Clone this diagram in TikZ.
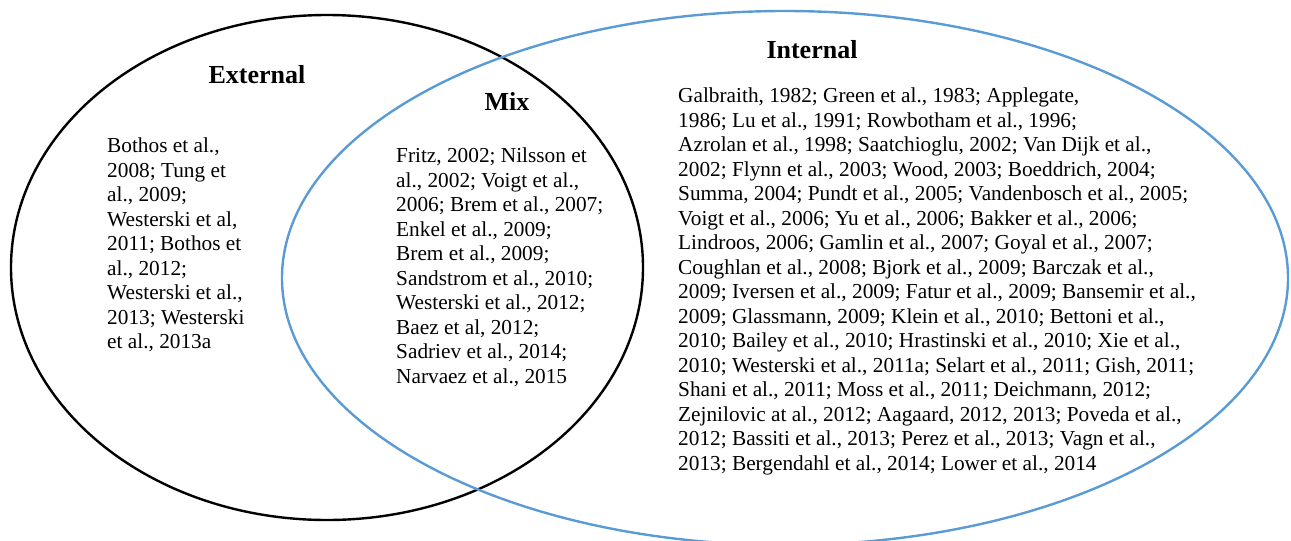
\documentclass[tikz,border=0pt]{standalone}
\usepackage{fontspec}
\setmainfont{Liberation Serif}
\definecolor{setblue}{RGB}{91,155,213}
\begin{document}
\begin{tikzpicture}[
    x=1pt,y=-1pt,
    set/.style={line width=2.4pt},
    head/.style={font=\fontsize{26}{30}\selectfont\bfseries,inner sep=0pt},
    refs/.style={font=\fontsize{21.3}{24.5}\selectfont,align=left,anchor=north west,inner sep=0pt}
]
\useasboundingbox (0,0) rectangle (1291,541);

% the two sets
\draw[set,black] (327,267.5) ellipse [x radius=316, y radius=252.5];
\draw[set,setblue] (785,278) ellipse [x radius=503, y radius=267];

% headings
\node[head] (external) at (257,75) {External};
\node[head] (mix) at (507,101) {Mix};
\node[head] (internal) at (812,50) {Internal};

% references in each part
\node[refs] (extrefs) at (107,138) {Bothos et al.,\\2008; Tung et\\al., 2009;\\Westerski et al,\\2011; Bothos et\\al., 2012;\\Westerski et al.,\\2013; Westerski\\et al., 2013a};
\node[refs] (mixrefs) at (396,148) {Fritz, 2002; Nilsson et\\al., 2002; Voigt et al.,\\2006; Brem et al., 2007;\\Enkel et al., 2009;\\Brem et al., 2009;\\Sandstrom et al., 2010;\\Westerski et al., 2012;\\Baez et al, 2012;\\Sadriev et al., 2014;\\Narvaez et al., 2015};
\node[refs] (intrefs) at (678,88) {Galbraith, 1982; Green et al., 1983; Applegate,\\1986; Lu et al., 1991; Rowbotham et al., 1996;\\Azrolan et al., 1998; Saatchioglu, 2002; Van Dijk et al.,\\2002; Flynn et al., 2003; Wood, 2003; Boeddrich, 2004;\\Summa, 2004; Pundt et al., 2005; Vandenbosch et al., 2005;\\Voigt et al., 2006; Yu et al., 2006; Bakker et al., 2006;\\Lindroos, 2006; Gamlin et al., 2007; Goyal et al., 2007;\\Coughlan et al., 2008; Bjork et al., 2009; Barczak et al.,\\2009; Iversen et al., 2009; Fatur et al., 2009; Bansemir et al.,\\2009; Glassmann, 2009; Klein et al., 2010; Bettoni et al.,\\2010; Bailey et al., 2010; Hrastinski et al., 2010; Xie et al.,\\2010; Westerski et al., 2011a; Selart et al., 2011; Gish, 2011;\\Shani et al., 2011; Moss et al., 2011; Deichmann, 2012;\\Zejnilovic at al., 2012; Aagaard, 2012, 2013; Poveda et al.,\\2012; Bassiti et al., 2013; Perez et al., 2013; Vagn et al.,\\2013; Bergendahl et al., 2014; Lower et al., 2014};
\end{tikzpicture}
\end{document}
